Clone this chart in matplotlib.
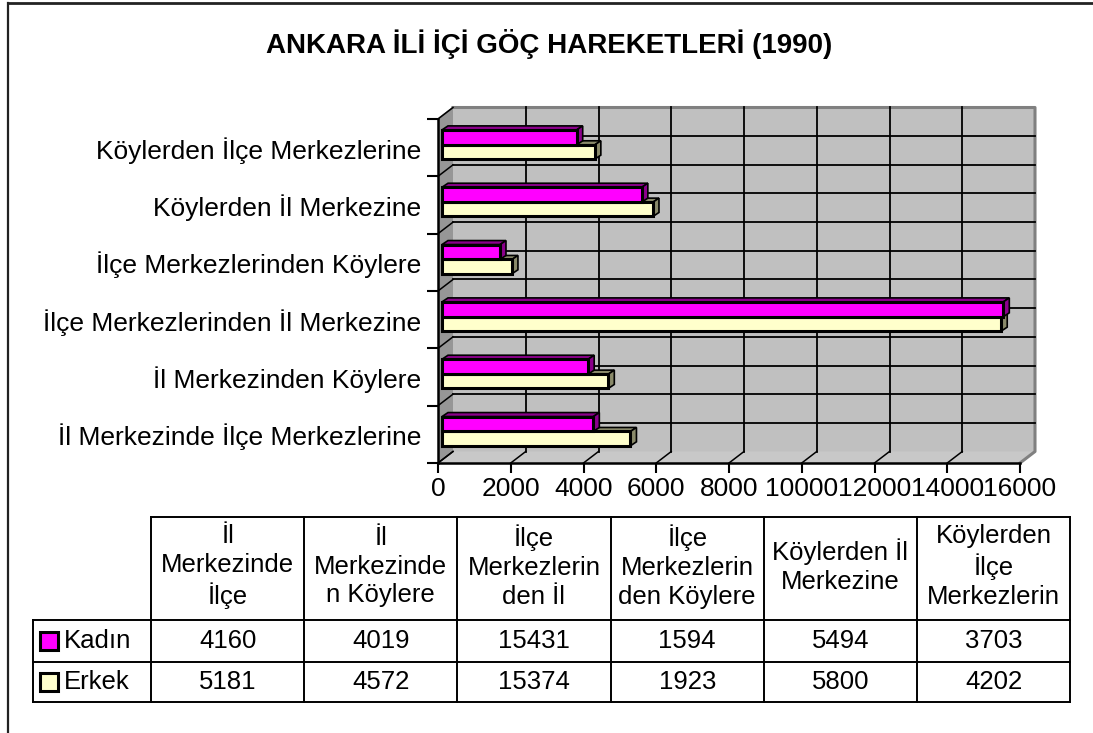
import matplotlib
matplotlib.use("Agg")
import matplotlib.pyplot as plt
from matplotlib.patches import Polygon, Rectangle

# data (bottom to top on the chart, left to right in the table)
categories = ["İl Merkezinde İlçe Merkezlerine", "İl Merkezinden Köylere",
              "İlçe Merkezlerinden İl Merkezine", "İlçe Merkezlerinden Köylere",
              "Köylerden İl Merkezine", "Köylerden İlçe Merkezlerine"]
table_headers = ["İl\nMerkezinde\nİlçe", "İl\nMerkezinde\nn Köylere",
                 "İlçe\nMerkezlerin\nden İl", "İlçe\nMerkezlerin\nden Köylere",
                 "Köylerden İl\nMerkezine", "Köylerden\nİlçe\nMerkezlerin"]
kadin = [4160, 4019, 15431, 1594, 5494, 3703]
erkek = [5181, 4572, 15374, 1923, 5800, 4202]
series_names = ["Kadın", "Erkek"]
x_ticks = list(range(0, 16001, 2000))
title = "ANKARA İLİ İÇİ GÖÇ HAREKETLERİ (1990)"

plt.rcParams['font.family'] = ['Liberation Sans', 'DejaVu Sans']

W, H = 1093, 733
fig = plt.figure(figsize=(W / 100, H / 100), dpi=100)

# background layer in pixel coords: frame, title, data table
tax = fig.add_axes([0, 0, 1, 1])
tax.set_xlim(0, W)
tax.set_ylim(H, 0)
tax.axis("off")

tax.plot([8, 8], [3, H], color="#222222", lw=1.6)
tax.plot([8, W], [3, 3], color="#222222", lw=2.0)
tax.text(549, 44, title, ha="center", va="center", fontsize=20, fontweight="bold")

col_x = [151 + 153.2 * j for j in range(7)]
row_y = [517, 620, 662, 702]
lw_t = 1.4
tax.plot([col_x[0], col_x[-1]], [row_y[0]] * 2, color="black", lw=lw_t)
for y in row_y[1:]:
    tax.plot([33, col_x[-1]], [y, y], color="black", lw=lw_t)
for x in col_x:
    tax.plot([x, x], [row_y[0], row_y[-1]], color="black", lw=lw_t)
tax.plot([33, 33], [row_y[1], row_y[-1]], color="black", lw=lw_t)

for j, head in enumerate(table_headers):
    cx = (col_x[j] + col_x[j + 1]) / 2
    tax.text(cx, (row_y[0] + row_y[1]) / 2 - 2, head, ha="center", va="center",
             fontsize=18.5, linespacing=1.25)

colors = ["#ff00ff", "#ffffcc"]
for r, (name, vals, col) in enumerate(zip(series_names, [kadin, erkek], colors)):
    cy = (row_y[r + 1] + row_y[r + 2]) / 2
    tax.add_patch(Rectangle((40, cy - 9), 18, 18, fc=col, ec="black", lw=2.2))
    tax.text(64, cy, name, ha="left", va="center", fontsize=18.5)
    for j, v in enumerate(vals):
        cx = (col_x[j] + col_x[j + 1]) / 2
        tax.text(cx, cy, str(v), ha="center", va="center", fontsize=18.5)

# front plane of the 3D chart, pixels
L, R, T, B = 438, 1020, 119, 463
ax = fig.add_axes([L / W, 1 - B / H, (R - L) / W, (B - T) / H])
ax.set_xlim(0, 16000)
ax.set_ylim(0, 6)
ax.patch.set_visible(False)
ux = 16000 / (R - L)
uy = 6 / (B - T)
DX, DY = 15 * ux, 11.5 * uy     # wall depth
FX = 4 * ux                     # bars sit a little behind the front
BDX, BDY = 6 * ux, 4 * uy       # bar depth

# walls
ax.add_patch(Rectangle((DX, DY), 16000, 6, fc="#c0c0c0", ec="none", zorder=0, clip_on=False))
ax.add_patch(Polygon([(0, 0), (DX, DY), (DX, 6 + DY), (0, 6)], fc="#969696", ec="none",
                     zorder=0.5, clip_on=False))
ax.add_patch(Polygon([(0, 0), (16000, 0), (16000 + DX, DY), (DX, DY)], fc="#c8c8c8",
                     ec="none", zorder=0.5, clip_on=False))
ax.plot([DX, 16000 + DX, 16000 + DX, 16000], [6 + DY, 6 + DY, DY, 0], color="#808080",
        lw=2.2, zorder=1, clip_on=False)
ax.plot([0, DX], [6, 6 + DY], color="#808080", lw=1.2, zorder=1, clip_on=False)

# gridlines on the back wall, diagonals on side wall and floor
for k in range(1, 8):
    ax.plot([DX + 2000 * k] * 2, [DY, 6 + DY], color="black", lw=1.3, zorder=1, clip_on=False)
for k in range(1, 12):
    ax.plot([DX, 16000 + DX], [DY + 0.5 * k] * 2, color="black", lw=1.3, zorder=1,
            clip_on=False)
for x in x_ticks[:-1]:
    ax.plot([x, x + DX], [0, DY], color="black", lw=1.1, zorder=1, clip_on=False)
for k in range(7):
    ax.plot([0, DX], [k, k + DY], color="black", lw=1.1, zorder=1, clip_on=False)

# bars: erkek first (lower), then kadin on top
bar_specs = [(erkek, 0.30, 0.25, "#ffffcc", "#8a8a6a"),
             (kadin, 0.55, 0.26, "#ff00ff", "#8b008b")]
for vals, off, h, face, dark in bar_specs:
    for i, v in enumerate(vals):
        y0 = i + off
        x1 = FX + v
        ax.add_patch(Polygon([(FX, y0 + h), (x1, y0 + h), (x1 + BDX, y0 + h + BDY),
                              (FX + BDX, y0 + h + BDY)], fc=dark, ec="black", lw=1.2,
                             zorder=3, clip_on=False))
        ax.add_patch(Polygon([(x1, y0), (x1 + BDX, y0 + BDY), (x1 + BDX, y0 + h + BDY),
                              (x1, y0 + h)], fc=dark, ec="black", lw=1.2, zorder=3,
                             clip_on=False))
    ax.barh([i + off for i in range(6)], vals, height=h, left=FX, align="edge",
            color=face, edgecolor="black", linewidth=2.2, zorder=4, clip_on=False)

# axes
for s in ["top", "right"]:
    ax.spines[s].set_visible(False)
for s in ["left", "bottom"]:
    ax.spines[s].set_linewidth(1.8)
    ax.spines[s].set_color("black")
    ax.spines[s].set_zorder(5)

ax.set_xticks(x_ticks)
ax.set_xticklabels([str(t) for t in x_ticks])
ax.tick_params(axis="x", length=7, width=1.5, labelsize=19, pad=3)
ax.set_yticks(range(7))
ax.set_yticklabels([])
ax.tick_params(axis="y", which="major", length=8, width=1.5)
ax.set_yticks([i + 0.5 for i in range(6)], minor=True)
ax.set_yticklabels(categories, minor=True)
ax.tick_params(axis="y", which="minor", length=0, pad=12, labelsize=19)

fig.savefig("out.png", dpi=100)
